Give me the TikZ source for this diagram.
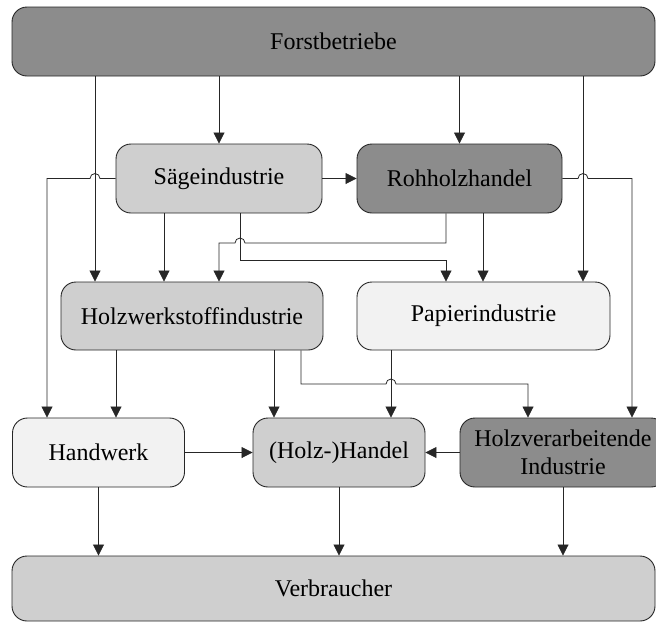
\documentclass[tikz,border=0pt]{standalone}
\usepackage{fontspec}
\setmainfont{Liberation Serif}
\usetikzlibrary{arrows.meta,calc}
\definecolor{dk}{HTML}{8C8C8C}
\definecolor{md}{HTML}{CFCFCF}
\definecolor{lt}{HTML}{F2F2F2}
\begin{document}
\begin{tikzpicture}[x=1pt,y=-1pt,
  box/.style={draw=black!85,line width=0.9pt,rounded corners=15pt,inner sep=0pt,
    font=\fontsize{24}{28}\selectfont,align=center},
  conn/.style={draw=black!85,line width=0.8pt},
  arr/.style={conn,-{Triangle[length=11pt,width=11pt]}}]
\useasboundingbox (0,0) rectangle (656,622);
\clip (0,0) rectangle (656,622);
% nodes
\node[box,fill=dk,minimum width=643pt,minimum height=69pt] (forst) at (333.5,41.5) {Forstbetriebe};
\node[box,fill=md,minimum width=206pt,minimum height=69pt] (saege) at (219,178.5) {Sägeindustrie};
\node[box,fill=dk,minimum width=205pt,minimum height=69pt] (roh) at (459.5,178.5) {Rohholzhandel};
\node[box,fill=md,minimum width=262pt,minimum height=68pt] (holzw) at (192,316) {Holzwerkstoffindustrie};
\node[box,fill=lt,minimum width=253pt,minimum height=68pt] (papier) at (483.5,316) {Papierindustrie};
\node[box,fill=lt,minimum width=172pt,minimum height=69pt] (handwerk) at (98.5,452.5) {Handwerk};
\node[box,fill=md,minimum width=172pt,minimum height=69pt] (handel) at (339,452.5) {(Holz-)Handel};
\node[box,fill=dk,minimum width=206pt,minimum height=69pt] (holzv) at (563,452.5) {Holzverarbeitende\\Industrie};
\node[box,fill=md,minimum width=643pt,minimum height=65pt] (verb) at (333.5,588.5) {Verbraucher};
% helper coordinates
\coordinate (x47) at (47,0);
\coordinate (x95) at (95,0);
\coordinate (x116) at (116,0);
\coordinate (x164) at (164,0);
\coordinate (x219) at (219,0);
\coordinate (x240) at (240,0);
\coordinate (x274) at (274,0);
\coordinate (x301) at (301,0);
\coordinate (x391) at (391,0);
\coordinate (x446) at (446,0);
\coordinate (x483) at (483,0);
\coordinate (x528) at (528,0);
\coordinate (x583) at (583,0);
\coordinate (x632) at (632,0);
\coordinate (y243) at (0,243);
\coordinate (y260) at (0,260);
\coordinate (y384) at (0,384);
% Forstbetriebe
\draw[arr] (x95 |- forst.south) -- (x95 |- holzw.north);
\draw[arr] (forst.south -| saege.north) -- (saege.north);
\draw[arr] (forst.south -| roh.north) -- (roh.north);
\draw[arr] (x583 |- forst.south) -- (x583 |- papier.north);
% Saegeindustrie
\draw[arr] (saege.west) -- ($(x95 |- saege.west)+(5,0)$) arc[start angle=0,end angle=-180,radius=5]
  -- (x47 |- saege.west) -- (x47 |- handwerk.north);
\draw[arr] (saege.east) -- (roh.west);
\draw[arr] (x164 |- saege.south) -- (x164 |- holzw.north);
\draw[arr] (x240 |- saege.south) -- (x240 |- y260) -- (x446 |- y260) -- (x446 |- papier.north);
% Rohholzhandel
\draw[arr] (x446 |- roh.south) -- (x446 |- y243) -- ($(x240 |- y243)+(5,0)$) arc[start angle=0,end angle=-180,radius=5]
  -- (x219 |- y243) -- (x219 |- holzw.north);
\draw[arr] (x483 |- roh.south) -- (x483 |- papier.north);
\draw[arr] (roh.east) -- ($(x583 |- roh.east)+(-5,0)$) arc[start angle=180,end angle=360,radius=5]
  -- (x632 |- roh.east) -- (x632 |- holzv.north);
% Holzwerkstoffindustrie
\draw[arr] (x116 |- holzw.south) -- (x116 |- handwerk.north);
\draw[arr] (x274 |- holzw.south) -- (x274 |- handel.north);
\draw[arr] (x301 |- holzw.south) -- (x301 |- y384) -- ($(x391 |- y384)+(-5,0)$) arc[start angle=180,end angle=360,radius=5]
  -- (x528 |- y384) -- (x528 |- holzv.north);
% Papierindustrie
\draw[arr] (x391 |- papier.south) -- (x391 |- handel.north);
% third row
\draw[arr] (handwerk.east) -- (handel.west);
\draw[arr] (holzv.west) -- (handel.east);
\draw[arr] (handwerk.south) -- (handwerk.south |- verb.north);
\draw[arr] (handel.south) -- (handel.south |- verb.north);
\draw[arr] (holzv.south) -- (holzv.south |- verb.north);
\end{tikzpicture}
\end{document}
